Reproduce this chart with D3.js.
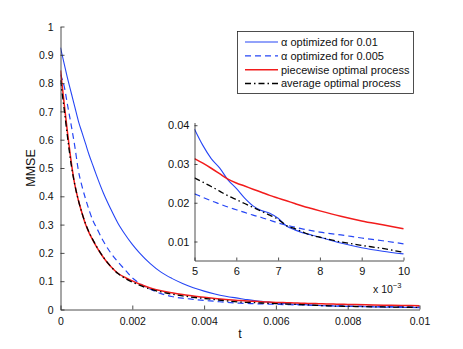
<!DOCTYPE html>
<html><head><meta charset="utf-8">
<script src="https://cdn.jsdelivr.net/npm/d3@7"></script>
<style>body{margin:0;background:#fff}svg{display:block;font-family:"Liberation Sans",Arial,Helvetica,sans-serif}</style>
</head><body>
<svg id="c" width="463" height="349"></svg>
<script>
// ---- data ----
const tValues = [0,0.0001,0.0002,0.0003,0.0004,0.0005,0.0006,0.0007,0.0008,0.0009,0.001,0.0012,0.0014,0.0016,0.0018,0.002,0.0022,0.0025,0.0028,0.0031,0.0034,0.0037,0.004,0.0043,0.0046,0.005,0.0052,0.0054,0.0056,0.0058,0.006,0.0062,0.0064,0.0066,0.0068,0.007,0.0072,0.0074,0.0076,0.0078,0.008,0.0085,0.009,0.0095,0.01];
const alpha001 = [0.925,0.87,0.815,0.765,0.715,0.665,0.625,0.585,0.545,0.51,0.475,0.41,0.355,0.305,0.265,0.23,0.2,0.162,0.132,0.11,0.092,0.077,0.065,0.055,0.047,0.039,0.0348,0.0314,0.029,0.0259,0.0237,0.0212,0.0192,0.018,0.0173,0.016,0.014,0.013,0.0122,0.0117,0.0111,0.0096,0.0084,0.0075,0.0068];
const alpha0005 = [0.83,0.79,0.72,0.65,0.575,0.49,0.435,0.39,0.35,0.315,0.29,0.24,0.2,0.168,0.14,0.112,0.093,0.072,0.056,0.046,0.04,0.036,0.032,0.029,0.0255,0.0223,0.0214,0.0205,0.0197,0.0189,0.0182,0.0175,0.0168,0.0162,0.0155,0.0148,0.0142,0.0137,0.0132,0.0128,0.0124,0.0117,0.0109,0.0102,0.0094];
const piecewise = [0.845,0.73,0.62,0.52,0.44,0.385,0.34,0.3,0.27,0.245,0.222,0.183,0.152,0.128,0.113,0.101,0.09,0.076,0.066,0.059,0.053,0.048,0.043,0.039,0.0355,0.0314,0.0302,0.0289,0.0275,0.0261,0.0251,0.0243,0.0235,0.0227,0.0219,0.0212,0.0205,0.0198,0.0191,0.0185,0.0179,0.0165,0.0153,0.0143,0.0133];
const average = [0.81,0.71,0.605,0.51,0.44,0.385,0.34,0.302,0.272,0.247,0.224,0.184,0.152,0.127,0.11,0.097,0.086,0.072,0.062,0.054,0.048,0.043,0.039,0.035,0.031,0.0264,0.0253,0.0242,0.023,0.0218,0.0208,0.0198,0.0188,0.0178,0.0168,0.0157,0.0141,0.0133,0.0124,0.0116,0.0111,0.0099,0.009,0.0082,0.0072];
const seriesNames = ["\u03b1 optimized for 0.01","\u03b1 optimized for 0.005","piecewise optimal process","average optimal process"];
const mainXTicks = [0,0.002,0.004,0.006,0.008,0.01];
const mainXTickLabels = ["0","0.002","0.004","0.006","0.008","0.01"];
const mainYTicks = [0,0.1,0.2,0.3,0.4,0.5,0.6,0.7,0.8,0.9,1];
const insetXTicks = [0.005,0.006,0.007,0.008,0.009,0.01];
const insetXTickLabels = ["5","6","7","8","9","10"];
const insetYTicks = [0.01,0.02,0.03,0.04];

// ---- styles ----
const styles = [
  {color:"#2646f5", width:1.1, dash:null},
  {color:"#2646f5", width:1.2, dash:"6,4"},
  {color:"#f21c1c", width:1.5, dash:null},
  {color:"#000000", width:1.3, dash:"6,3,1.5,3"}
];
const allSeries = [alpha001, alpha0005, piecewise, average];

const svg = d3.select("#c");
const axisColor = "#222";
const FONT = "Liberation Sans, Arial, sans-serif";

// ---- main axes ----
const M = {x0:60.5, x1:419.5, y0:309.5, y1:26.5};
const x = d3.scaleLinear().domain([0,0.01]).range([M.x0,M.x1]);
const y = d3.scaleLinear().domain([0,1]).range([M.y0,M.y1]);

const defs = svg.append("defs");
defs.append("clipPath").attr("id","mclip").append("rect")
  .attr("x",M.x0).attr("y",M.y1-2).attr("width",M.x1-M.x0+2).attr("height",M.y0-M.y1+2);

const mainG = svg.append("g").attr("clip-path","url(#mclip)");
allSeries.forEach((s,i)=>{
  const line = d3.line().x((d,j)=>x(tValues[j])).y(d=>y(d)).curve(d3.curveMonotoneX);
  mainG.append("path").datum(s).attr("d",line).attr("fill","none")
    .attr("stroke",styles[i].color).attr("stroke-width",styles[i].width)
    .attr("stroke-dasharray",styles[i].dash);
});

const xAxis = d3.axisBottom(x).tickValues(mainXTicks).tickFormat((d,i)=>mainXTickLabels[i]).tickSize(-4).tickSizeOuter(0).tickPadding(8);
const gx = svg.append("g").attr("transform",`translate(0,${M.y0})`).call(xAxis);
const yAxis = d3.axisLeft(y).tickValues(mainYTicks).tickFormat(d3.format("")).tickSize(-4).tickSizeOuter(0).tickPadding(7);
const gy = svg.append("g").attr("transform",`translate(${M.x0},0)`).call(yAxis);
[gx,gy].forEach(g=>{
  g.selectAll("path,line").attr("stroke",axisColor).attr("stroke-width",0.8);
  g.selectAll("text").attr("font-size",10.5).attr("fill","#111").attr("font-family",FONT);
});
gy.selectAll("text").attr("dy","0.35em");

svg.append("text").attr("x",(M.x0+M.x1)/2).attr("y",338).attr("text-anchor","middle")
  .attr("font-size",12.5).attr("fill","#111").attr("font-family",FONT).text("t");
svg.append("text").attr("transform",`translate(35,${(M.y0+M.y1)/2}) rotate(-90)`).attr("text-anchor","middle")
  .attr("font-size",12.5).attr("fill","#111").attr("font-family",FONT).text("MMSE");

// ---- inset ----
const I = {x0:194.5, x1:403.5, y0:260.5, y1:122.5};
const xi = d3.scaleLinear().domain([0.005,0.01]).range([I.x0,I.x1]);
const yi = d3.scaleLinear().domain([0.0051,0.0407]).range([I.y0,I.y1]);
svg.append("rect").attr("x",I.x0).attr("y",I.y1).attr("width",I.x1-I.x0).attr("height",I.y0-I.y1).attr("fill","#fff");
defs.append("clipPath").attr("id","iclip").append("rect")
  .attr("x",I.x0).attr("y",I.y1).attr("width",I.x1-I.x0+1).attr("height",I.y0-I.y1);
const insetG = svg.append("g").attr("clip-path","url(#iclip)");
allSeries.forEach((s,i)=>{
  const pts = s.map((v,j)=>[tValues[j],v]).filter(p=>p[0]>=0.005);
  const line = d3.line().x(p=>xi(p[0])).y(p=>yi(p[1])).curve(d3.curveMonotoneX);
  insetG.append("path").datum(pts).attr("d",line).attr("fill","none")
    .attr("stroke",styles[i].color).attr("stroke-width",styles[i].width)
    .attr("stroke-dasharray",styles[i].dash);
});
const xiAxis = d3.axisBottom(xi).tickValues(insetXTicks).tickFormat((d,i)=>insetXTickLabels[i]).tickSize(-3).tickSizeOuter(0).tickPadding(7);
const gxi = svg.append("g").attr("transform",`translate(0,${I.y0})`).call(xiAxis);
const yiAxis = d3.axisLeft(yi).tickValues(insetYTicks).tickFormat(d3.format(".2f")).tickSize(-3).tickSizeOuter(0).tickPadding(5);
const gyi = svg.append("g").attr("transform",`translate(${I.x0},0)`).call(yiAxis);
[gxi,gyi].forEach(g=>{
  g.selectAll("path,line").attr("stroke",axisColor).attr("stroke-width",0.8);
  g.selectAll("text").attr("font-size",11).attr("fill","#111").attr("font-family",FONT);
});
const expT = svg.append("text").attr("x",373).attr("y",293).attr("font-size",10.5).attr("fill","#111").attr("font-family",FONT);
expT.append("tspan").text("x 10");
expT.append("tspan").attr("dy",-5).attr("font-size",7.5).text("\u22123");

// ---- legend ----
const L = {x:237.5, y:31.5, w:176, h:62};
svg.append("rect").attr("x",L.x).attr("y",L.y).attr("width",L.w).attr("height",L.h)
  .attr("fill","#fff").attr("stroke","#222").attr("stroke-width",0.8);
const rowY = d3.scaleLinear().domain([0,3]).range([42,83.5]);
seriesNames.forEach((name,i)=>{
  const yy = rowY(i);
  svg.append("line").attr("x1",245).attr("x2",278).attr("y1",yy).attr("y2",yy)
    .attr("stroke",styles[i].color).attr("stroke-width",styles[i].width).attr("stroke-dasharray",styles[i].dash);
  svg.append("text").attr("x",281).attr("y",yy).attr("dy","0.35em").attr("font-size",11).attr("fill","#111").attr("font-family",FONT).text(name);
});
</script>
</body></html>
